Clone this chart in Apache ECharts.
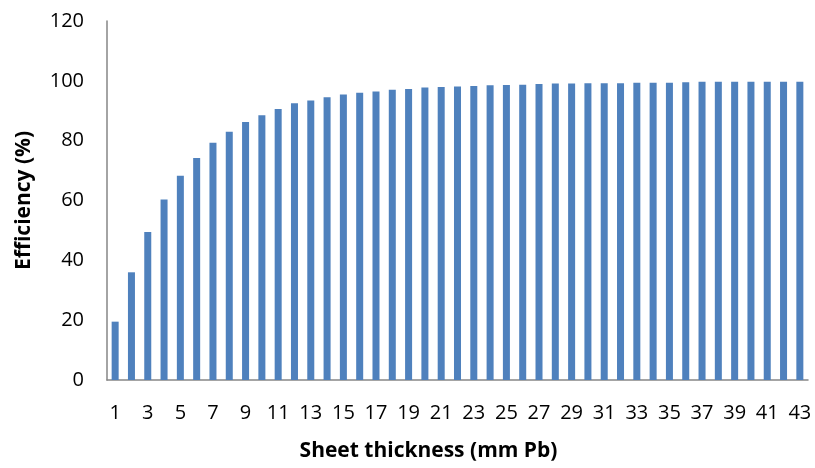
<!DOCTYPE html>
<html><head><meta charset="utf-8">
<script src="https://cdn.jsdelivr.net/npm/echarts@6/dist/echarts.min.js"></script>
<style>html,body{margin:0;padding:0;background:#fff}#c{width:815px;height:468px}</style>
</head><body><div id="c"></div>
<script>
const categories = Array.from({length: 43}, (_, i) => String(i + 1));
const efficiency = [19.5, 36.0, 49.5, 60.3, 68.3, 74.2, 79.3, 83.0, 86.2, 88.5,
  90.6, 92.5, 93.4, 94.5, 95.4, 96.0, 96.4, 97.0, 97.3, 97.8,
  97.9, 98.1, 98.3, 98.5, 98.6, 98.7, 98.9, 99.1, 99.1, 99.2,
  99.2, 99.2, 99.4, 99.4, 99.4, 99.5, 99.7, 99.7, 99.7, 99.7,
  99.7, 99.7, 99.7];
const yTicks = {min: 0, max: 120, interval: 20};
const font = 'Open Sans';
const chart = echarts.init(document.getElementById('c'));
chart.setOption({
  animation: false,
  grid: {left: 107, top: 21, right: 7, bottom: 88},
  xAxis: {
    type: 'category', data: categories,
    name: 'Sheet thickness (mm Pb)', nameLocation: 'middle', nameGap: 61,
    nameTextStyle: {fontFamily: font, fontWeight: 'bold', fontSize: 21, color: '#000', padding: [0, 58, 0, 0]},
    axisLine: {lineStyle: {color: '#868686', width: 1.5}},
    axisTick: {show: false},
    axisLabel: {interval: 1, fontFamily: font, fontSize: 20, color: '#000', margin: 23}
  },
  yAxis: {
    type: 'value', min: yTicks.min, max: yTicks.max, interval: yTicks.interval,
    name: 'Efficiency (%)', nameLocation: 'middle', nameGap: 72, nameRotate: 90,
    nameTextStyle: {fontFamily: font, fontWeight: 'bold', fontSize: 21, color: '#000'},
    axisLine: {show: true, lineStyle: {color: '#868686', width: 1.5}},
    axisTick: {show: false},
    splitLine: {show: false},
    axisLabel: {fontFamily: font, fontSize: 20, color: '#000', margin: 23}
  },
  series: [{
    type: 'bar', data: efficiency, barCategoryGap: '57%',
    itemStyle: {color: '#4F81BD'}
  }]
});
</script></body></html>
